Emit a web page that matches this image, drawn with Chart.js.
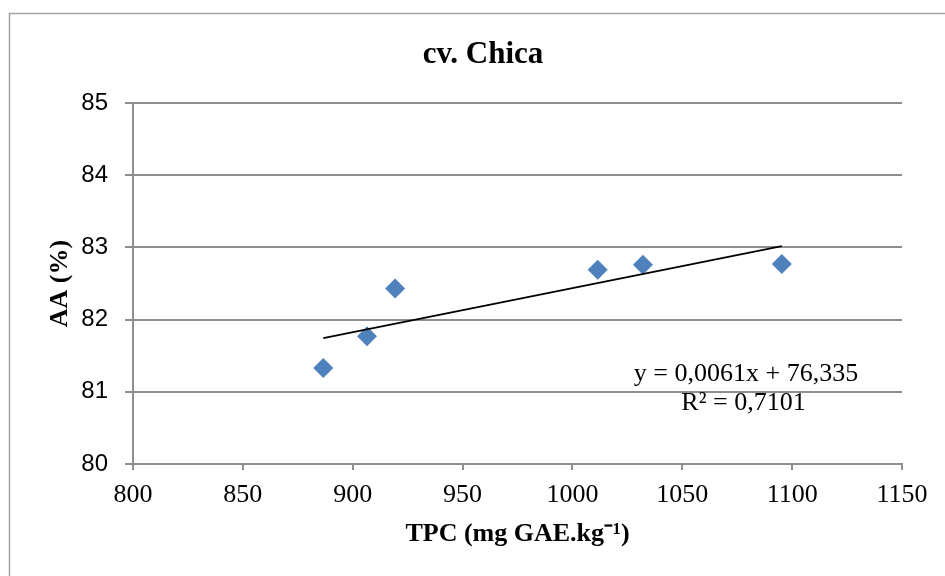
<!DOCTYPE html>
<html>
<head>
<meta charset="utf-8">
<script src="https://cdn.jsdelivr.net/npm/chart.js@4"></script>
<style>
  html, body { margin: 0; padding: 0; background: #fff; }
  canvas { display: block; }
</style>
</head>
<body>
<canvas id="c" width="945" height="576"></canvas>
<script>
// ---- Data ----
const chartTitle = 'cv. Chica';
const xTitle = 'TPC (mg GAE.kg\u207B\u00B9)';
const yTitle = 'AA (%)';
const tpc = [886.6, 906.5, 919.3, 1011.5, 1032.1, 1095.3];
const aa  = [81.33, 81.77, 82.43, 82.69, 82.76, 82.77];
const trendSlope = 0.0061;
const trendIntercept = 76.335;
const equationLines = ['y = 0,0061x + 76,335', 'R\u00B2 = 0,7101'];
const xTickRange = [800, 1150, 50];
const yTickRange = [80, 85, 1];

// ---- Derived ----
const points = tpc.map((x, i) => ({ x: x, y: aa[i] }));
const tMin = Math.min(...tpc), tMax = Math.max(...tpc);
const trend = [tMin, tMax].map(x => ({ x: x, y: trendSlope * x + trendIntercept }));

const GRID = '#8e8e8e';
const SERIF = '"Liberation Serif", "Times New Roman", serif';
const SANS = '"Liberation Sans", Arial, sans-serif';

const decor = {
  id: 'decor',
  beforeDraw(chart) {
    const ctx = chart.ctx;
    ctx.save();
    ctx.fillStyle = '#ffffff';
    ctx.fillRect(0, 0, chart.width, chart.height);
    ctx.strokeStyle = '#a3a3a3';
    ctx.lineWidth = 1.5;
    ctx.strokeRect(9.5, 13.5, 1000, 1000);
    ctx.restore();
  },
  afterDraw(chart) {
    const ctx = chart.ctx;
    ctx.save();
    ctx.fillStyle = '#000';
    ctx.textAlign = 'center';
    ctx.textBaseline = 'middle';
    ctx.font = 'bold 31px ' + SERIF;
    ctx.fillText(chartTitle, 483, 55);
    ctx.font = '26px ' + SERIF;
    ctx.fillText(equationLines[0], 746, 374);
    ctx.fillText(equationLines[1], 743.5, 403);
    ctx.restore();
  }
};

new Chart(document.getElementById('c'), {
  type: 'scatter',
  data: {
    datasets: [
      {
        label: 'trend',
        data: trend,
        showLine: true,
        borderColor: '#000000',
        borderWidth: 1.8,
        pointRadius: 0,
        fill: false,
        order: 0
      },
      {
        label: 'AA',
        data: points,
        pointStyle: 'rectRot',
        pointRadius: 10,
        pointBackgroundColor: '#4f81bd',
        pointBorderColor: '#4f81bd',
        pointBorderWidth: 0,
        showLine: false,
        order: 1
      }
    ]
  },
  options: {
    responsive: false,
    animation: false,
    layout: { padding: { top: 103, right: 43, left: 10, bottom: 0 } },
    plugins: {
      legend: { display: false },
      tooltip: { enabled: false },
      title: { display: false }
    },
    scales: {
      x: {
        type: 'linear',
        min: xTickRange[0],
        max: xTickRange[1],
        afterFit(scale) { scale.height = 112; },
        ticks: {
          stepSize: xTickRange[2],
          color: '#000',
          padding: 10,
          font: { family: SERIF, size: 26 },
          maxRotation: 0,
          callback: (v) => String(v)
        },
        grid: {
          drawOnChartArea: false,
          drawTicks: true,
          tickLength: 6,
          color: GRID,
          lineWidth: 2
        },
        border: { display: true, color: GRID, width: 2 },
        title: {
          display: true,
          text: xTitle,
          color: '#000',
          font: { family: SERIF, size: 26, weight: 'bold' },
          padding: { top: 0, bottom: 26 }
        }
      },
      y: {
        type: 'linear',
        min: yTickRange[0],
        max: yTickRange[1],
        afterFit(scale) { scale.width = 123; },
        ticks: {
          stepSize: yTickRange[2],
          color: '#000',
          padding: 17,
          font: { family: SANS, size: 24 },
          callback: (v) => String(v)
        },
        grid: {
          drawOnChartArea: true,
          drawTicks: true,
          tickLength: 8,
          color: GRID,
          lineWidth: 2
        },
        border: { display: true, color: GRID, width: 2 },
        title: {
          display: true,
          text: yTitle,
          color: '#000',
          font: { family: SERIF, size: 26, weight: 'bold' },
          padding: { top: 35, bottom: 0 }
        }
      }
    }
  },
  plugins: [decor]
});
</script>
</body>
</html>
